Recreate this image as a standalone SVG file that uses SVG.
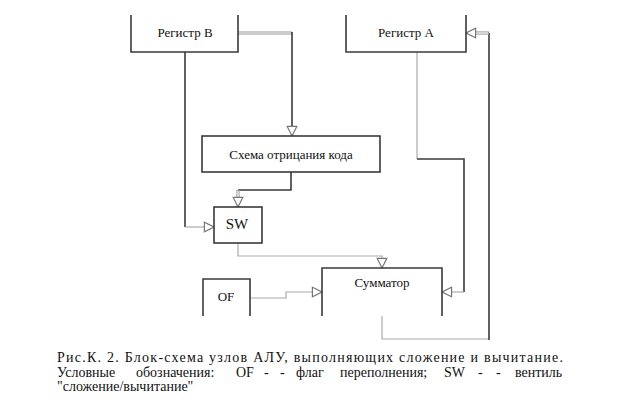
<svg xmlns="http://www.w3.org/2000/svg" width="624" height="418" viewBox="0 0 624 418">
<defs>
<marker id="arr" markerUnits="userSpaceOnUse" markerWidth="12" markerHeight="12" refX="9" refY="5" orient="auto" viewBox="0 0 10 10">
<path d="M1,1 L9,5 L1,9 Z" fill="#fff" stroke="#777" stroke-width="1"/>
</marker>
</defs>
<style>
.box{fill:#fff;stroke:#3a3a3a;stroke-width:1.6}
.open{fill:none;stroke:#3a3a3a;stroke-width:1.6}
text{font-family:'Liberation Serif','Times New Roman','DejaVu Serif',serif;font-size:13px;fill:#111}
.lbl{text-anchor:middle}
.cap{font-size:14px}
.dk{fill:none;stroke:#3a3a3a;stroke-width:1.6}
.lt{fill:none;stroke:#aaa;stroke-width:1.2}
.dbl{fill:none;stroke:#999;stroke-width:3.2}
.dblin{fill:none;stroke:#fff;stroke-width:1.2}
</style>
<rect width="624" height="418" fill="#fff"/>
<g id="connectors">
<path class="dbl" d="M238,33 H292"/>
<path class="dblin" d="M238,33 H291"/>
<path class="dk" d="M292,32 V136" marker-end="url(#arr)"/>
<path class="dk" d="M185,52 V227"/>
<path class="lt" d="M185,227 H214" marker-end="url(#arr)"/>
<path class="dk" d="M291,172 V190 H238"/>
<path class="dbl" d="M238,190 V203"/>
<path class="dblin" d="M238,191 V203"/>
<path class="lt" d="M238,200 V207" marker-end="url(#arr)"/>
<path class="lt" d="M238,243 V256 H382 V268" marker-end="url(#arr)"/>
<path class="lt" d="M250,298 H286 V292 H322" marker-end="url(#arr)"/>
<path class="lt" d="M417,52 V159"/>
<path class="dk" d="M417,159 H464 V292"/>
<path class="lt" d="M464,292 H442" marker-end="url(#arr)"/>
<path class="lt" d="M382,316 V339 H489"/>
<path class="dk" d="M489,340 V33"/>
<path class="dbl" d="M489,33 H470"/>
<path class="dblin" d="M488,33 H470"/>
<path class="lt" d="M472,33 H466" marker-end="url(#arr)"/>
</g>
<g id="regB">
<path class="open" d="M131,15 V52 H238 V15"/>
<text class="lbl" x="185" y="37">Регистр В</text>
</g>
<g id="regA">
<path class="open" d="M346,15 V52 H466 V15"/>
<text class="lbl" x="406" y="37">Регистр А</text>
</g>
<g id="negate">
<rect class="box" x="202" y="136" width="178" height="36"/>
<text class="lbl" x="291" y="159">Схема отрицания кода</text>
</g>
<g id="sw">
<rect class="box" x="214" y="207" width="48" height="36"/>
<text class="lbl" x="237" y="229" style="font-size:15px">SW</text>
</g>
<g id="adder">
<path class="open" d="M322,316 V268 H442 V316"/>
<text class="lbl" x="382" y="287">Сумматор</text>
</g>
<g id="of">
<path class="open" d="M203,316 V279 H250 V316"/>
<text class="lbl" x="226" y="301">OF</text>
</g>
<g id="caption">
<text class="cap" x="57" y="362" textLength="506" lengthAdjust="spacing">Рис.К. 2. Блок-схема узлов АЛУ, выполняющих сложение и вычитание.</text>
<text class="cap" y="377"><tspan x="57">Условные</tspan><tspan x="136">обозначения:</tspan><tspan x="236">OF</tspan><tspan x="264">-</tspan><tspan x="280">-</tspan><tspan x="296">флаг</tspan><tspan x="340">переполнения;</tspan><tspan x="444">SW</tspan><tspan x="478">-</tspan><tspan x="496">-</tspan><tspan x="515">вентиль</tspan></text>
<text class="cap" x="57" y="391">"сложение/вычитание"</text>
</g>
</svg>
